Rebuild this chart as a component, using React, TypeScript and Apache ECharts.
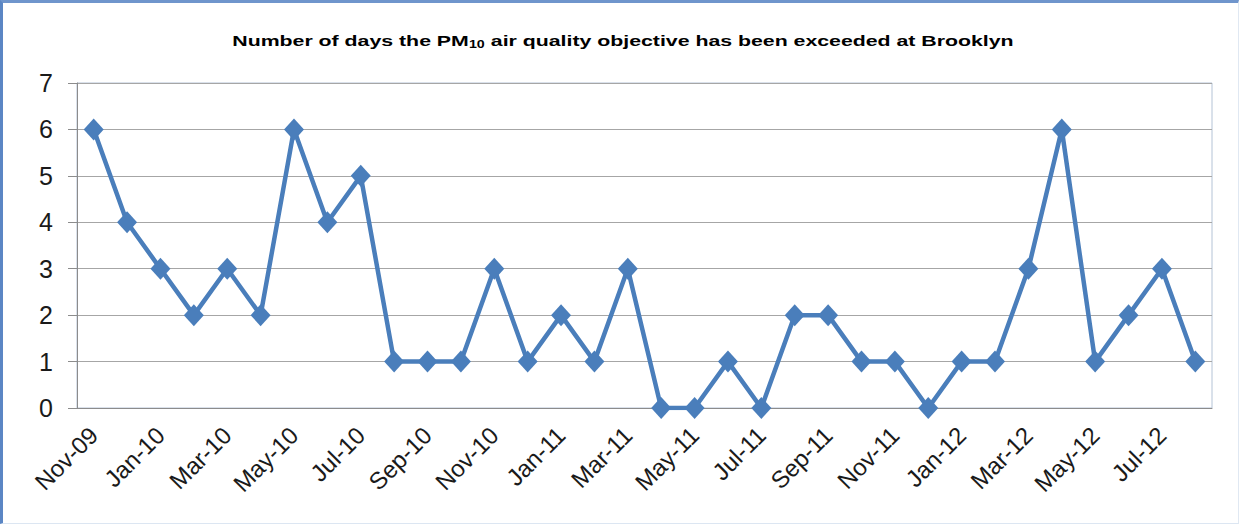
import React, { useEffect, useRef } from "react";
import * as echarts from "echarts";

const categories = [
  "Nov-09", "Dec-09", "Jan-10", "Feb-10", "Mar-10", "Apr-10", "May-10", "Jun-10", "Jul-10", "Aug-10",
  "Sep-10", "Oct-10", "Nov-10", "Dec-10", "Jan-11", "Feb-11", "Mar-11", "Apr-11", "May-11", "Jun-11",
  "Jul-11", "Aug-11", "Sep-11", "Oct-11", "Nov-11", "Dec-11", "Jan-12", "Feb-12", "Mar-12", "Apr-12",
  "May-12", "Jun-12", "Jul-12", "Aug-12",
];
const daysExceeded = [
  6, 4, 3, 2, 3, 2, 6, 4, 5, 1,
  1, 1, 3, 1, 2, 1, 3, 0, 0, 1,
  0, 2, 2, 1, 1, 0, 1, 1, 3, 6,
  1, 2, 3, 1,
];
const yTicks = { min: 0, max: 7, interval: 1 };

export default function App() {
  const ref = useRef<HTMLDivElement>(null);
  useEffect(() => {
    document.body.style.margin = "0";
    const chart = echarts.init(ref.current!, null, { renderer: "svg" });
    chart.setOption({
      animation: false,
      backgroundColor: "#ffffff",
      graphic: [
        {
          type: "text",
          x: 620,
          y: 38,
          scaleX: 1.42,
          style: {
            text: "{a|Number of days the PM}{s|10}{a| air quality objective has been exceeded at Brooklyn}",
            align: "center",
            verticalAlign: "middle",
            rich: {
              a: { fontFamily: "Liberation Sans, Arial", fontWeight: "bold", fontSize: 15, fill: "#000" },
              s: { fontFamily: "Liberation Sans, Arial", fontWeight: "bold", fontSize: 10, fill: "#000", padding: [8, 0, 0, 0] },
            },
          },
        },
      ],
      grid: {
        left: 74,
        right: 26,
        top: 80,
        bottom: 115,
        show: true,
        borderColor: "#b4c3d6",
        borderWidth: 1,
      },
      xAxis: {
        type: "category",
        data: categories,
        boundaryGap: true,
        axisLine: { lineStyle: { color: "#8c8c8c", width: 1 } },
        axisTick: { interval: 1, length: 8, lineStyle: { color: "#8c8c8c" } },
        axisLabel: {
          interval: 1,
          rotate: 45,
          fontSize: 24,
          fontFamily: "Liberation Sans, Arial",
          color: "#1a1a1a",
          margin: 23,
        },
        splitLine: { show: false },
      },
      yAxis: {
        type: "value",
        min: yTicks.min,
        max: yTicks.max,
        interval: yTicks.interval,
        axisLine: { show: true, lineStyle: { color: "#8c8c8c", width: 1 } },
        axisTick: { show: true, length: 9, lineStyle: { color: "#8c8c8c" } },
        axisLabel: {
          fontSize: 25,
          fontFamily: "Liberation Sans, Arial",
          color: "#1a1a1a",
          margin: 24,
        },
        splitLine: { lineStyle: { color: "#a6a6a6", width: 1 } },
      },
      series: [
        {
          type: "line",
          data: daysExceeded,
          symbol: "diamond",
          symbolSize: [20, 22],
          lineStyle: { color: "#4a7ebb", width: 4.5 },
          itemStyle: { color: "#4a7ebb" },
        },
      ],
    });
    return () => chart.dispose();
  }, []);
  return (
    <div
      style={{
        position: "absolute",
        left: 0,
        top: 0,
        width: 1239,
        height: 524,
        boxSizing: "border-box",
        borderLeft: "3px solid #5b86c4",
        borderTop: "3px solid #6f95cc",
        borderRight: "1px solid #e0e8f2",
        borderBottom: "1px solid #dce6f2",
      }}
    >
      <div ref={ref} style={{ width: 1235, height: 520 }} />
    </div>
  );
}
